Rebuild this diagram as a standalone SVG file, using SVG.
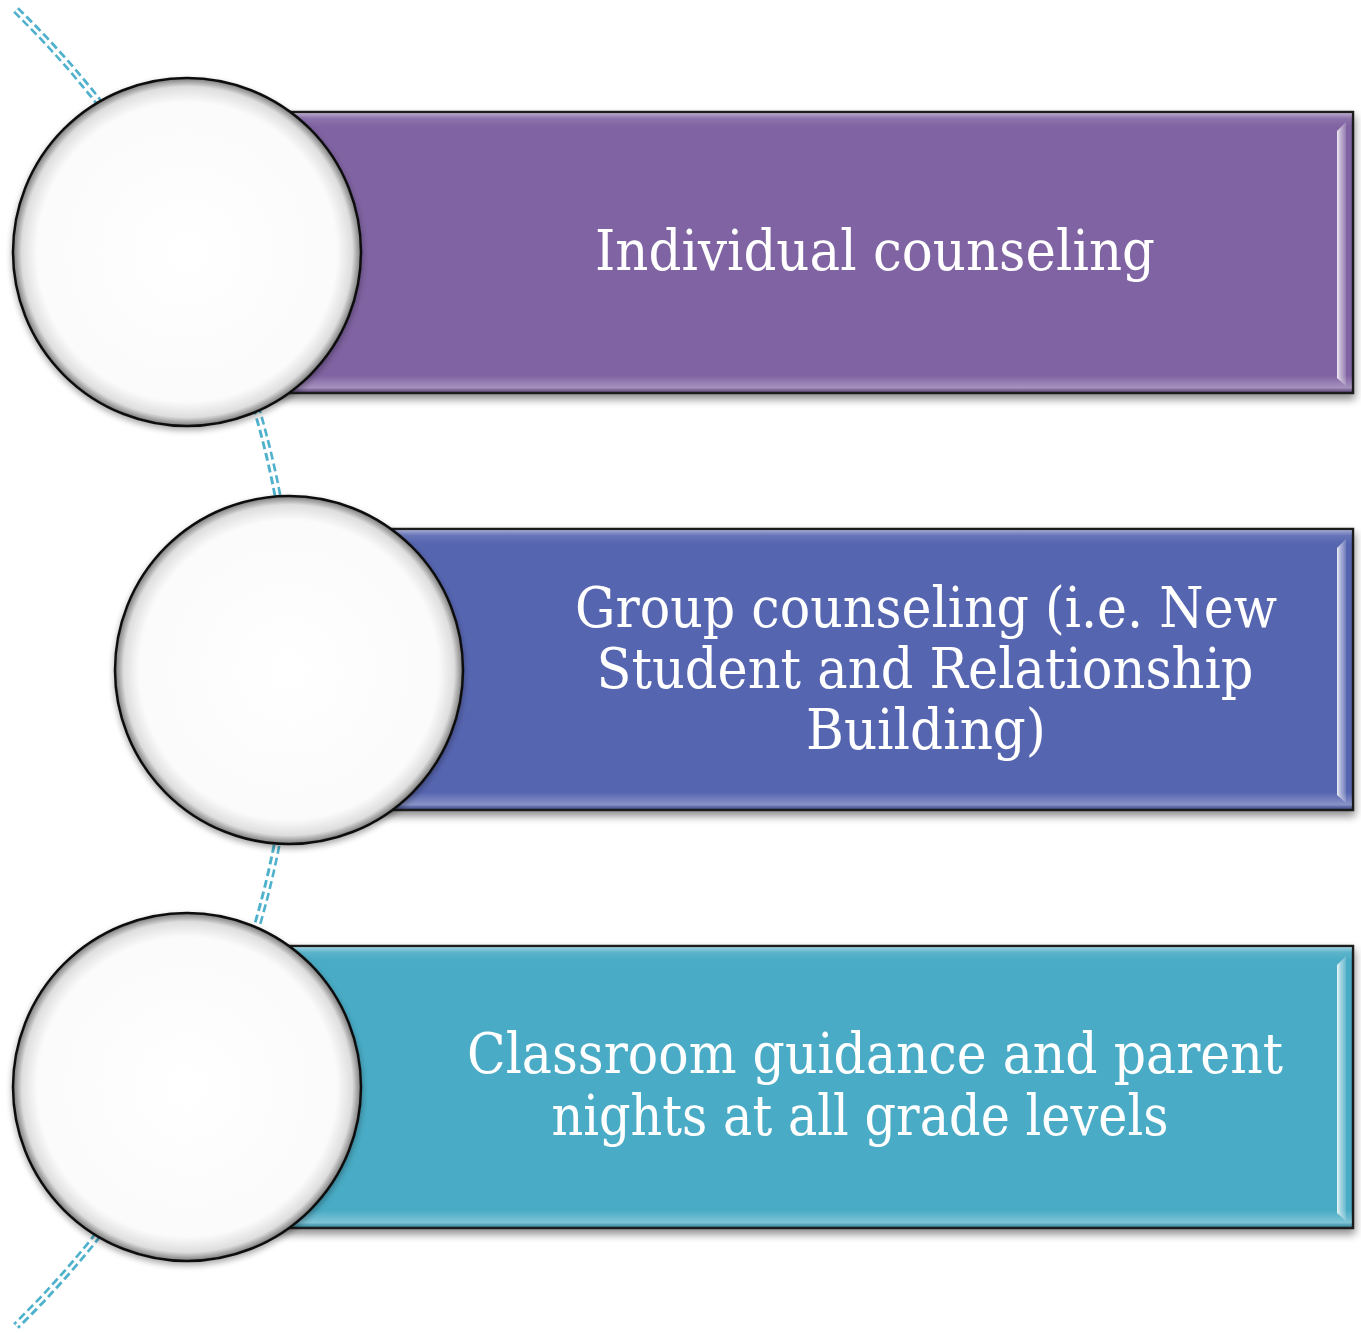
<svg xmlns="http://www.w3.org/2000/svg" width="1361" height="1333" viewBox="0 0 1361 1333">
<defs>
<style>
.lbl{font-family:"DejaVu Serif","Liberation Serif",serif;font-size:56px;fill:#ffffff;}
.box{stroke:#1a1a1a;stroke-width:2.5;}
.disc{fill:url(#discG);stroke:#111;stroke-width:2.5;}
</style>
<radialGradient id="discG" cx="0.5" cy="0.5" r="0.5">
<stop offset="0" stop-color="#ffffff"/>
<stop offset="0.86" stop-color="#fbfbfb"/>
<stop offset="0.95" stop-color="#dedede"/>
<stop offset="1" stop-color="#7a7a7a"/>
</radialGradient>
<linearGradient id="bevV" x1="0" y1="0" x2="0" y2="1">
<stop offset="0" stop-color="#ffffff" stop-opacity="0.45"/>
<stop offset="0.02" stop-color="#ffffff" stop-opacity="0.1"/>
<stop offset="0.05" stop-color="#ffffff" stop-opacity="0"/>
<stop offset="0.94" stop-color="#ffffff" stop-opacity="0"/>
<stop offset="0.985" stop-color="#ffffff" stop-opacity="0.3"/>
<stop offset="1" stop-color="#000000" stop-opacity="0.15"/>
</linearGradient>
<linearGradient id="bevR" x1="0" y1="0" x2="1" y2="0">
<stop offset="0" stop-color="#ffffff" stop-opacity="0.9"/>
<stop offset="0.35" stop-color="#ffffff" stop-opacity="0.55"/>
<stop offset="1" stop-color="#ffffff" stop-opacity="0.15"/>
</linearGradient>
<filter id="shRect" x="-5%" y="-10%" width="110%" height="125%">
<feGaussianBlur in="SourceAlpha" stdDeviation="4"/>
<feOffset dx="1" dy="5" result="b"/>
<feComponentTransfer><feFuncA type="linear" slope="0.45"/></feComponentTransfer>
<feMerge><feMergeNode/><feMergeNode in="SourceGraphic"/></feMerge>
</filter>
<filter id="shDisc" x="-10%" y="-10%" width="120%" height="125%">
<feGaussianBlur in="SourceAlpha" stdDeviation="3"/>
<feOffset dx="0" dy="3" result="b"/>
<feComponentTransfer><feFuncA type="linear" slope="0.35"/></feComponentTransfer>
<feMerge><feMergeNode/><feMergeNode in="SourceGraphic"/></feMerge>
</filter>
</defs>
<rect width="1361" height="1333" fill="#ffffff"/>

<g id="connectors">
<path d="M 16 10 A 918 918 0 0 1 16 1326" fill="none" stroke="#4fb1cc" stroke-width="8" stroke-dasharray="8 4"/>
<path d="M 16 10 A 918 918 0 0 1 16 1326" fill="none" stroke="#ffffff" stroke-width="2.5"/>
</g>

<g id="node1">
<g filter="url(#shRect)">
<rect class="box" x="187" y="112" width="1166" height="281" fill="#8064a2"/>
</g>
<rect x="188" y="113" width="1164" height="279" fill="url(#bevV)"/>
<polygon points="1337,131 1346,122 1346,386 1337,378" fill="url(#bevR)"/>
<circle class="disc" cx="187" cy="252" r="174" filter="url(#shDisc)"/>
<text class="lbl" x="875" y="270" text-anchor="middle" textLength="560" lengthAdjust="spacingAndGlyphs">Individual counseling</text>
</g>

<g id="node2">
<g filter="url(#shRect)">
<rect class="box" x="289" y="529" width="1064" height="281" fill="#5665b0"/>
</g>
<rect x="290" y="530" width="1062" height="279" fill="url(#bevV)"/>
<polygon points="1337,548 1346,539 1346,803 1337,795" fill="url(#bevR)"/>
<circle class="disc" cx="289" cy="670" r="174" filter="url(#shDisc)"/>
<text class="lbl" x="926" y="627" text-anchor="middle" textLength="702" lengthAdjust="spacingAndGlyphs">Group counseling (i.e. New</text>
<text class="lbl" x="925" y="688" text-anchor="middle" textLength="657" lengthAdjust="spacingAndGlyphs">Student and Relationship</text>
<text class="lbl" x="926" y="749" text-anchor="middle" textLength="240" lengthAdjust="spacingAndGlyphs">Building)</text>
</g>

<g id="node3">
<g filter="url(#shRect)">
<rect class="box" x="187" y="946" width="1166" height="282" fill="#4aabc5"/>
</g>
<rect x="188" y="947" width="1164" height="280" fill="url(#bevV)"/>
<polygon points="1337,965 1346,956 1346,1221 1337,1213" fill="url(#bevR)"/>
<circle class="disc" cx="187" cy="1087" r="174" filter="url(#shDisc)"/>
<g transform="translate(875,1073) scale(0.85,1)">
<text class="lbl" x="0" y="0" text-anchor="middle" textLength="960" lengthAdjust="spacingAndGlyphs">Classroom guidance and parent</text>
</g>
<g transform="translate(860,1135) scale(0.85,1)">
<text class="lbl" x="0" y="0" text-anchor="middle" textLength="726" lengthAdjust="spacingAndGlyphs">nights at all grade levels</text>
</g>
</g>
</svg>
